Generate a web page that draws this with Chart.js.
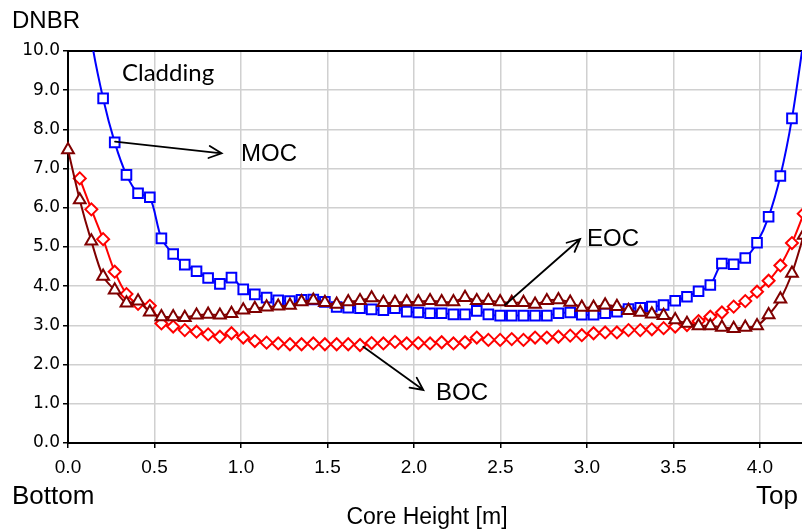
<!DOCTYPE html>
<html><head><meta charset="utf-8">
<script src="https://cdn.jsdelivr.net/npm/chart.js@4.4.0/dist/chart.umd.min.js"></script>
<style>html,body{margin:0;padding:0;background:#fff;}#wrap{width:802px;height:532px;position:relative}</style>
</head><body><div id="wrap"><canvas id="c"></canvas></div>
<script>
// Core height [m] of each axial node
const coreHeight = [0.000,0.068,0.135,0.203,0.270,0.338,0.405,0.473,0.540,0.608,0.675,0.743,0.810,0.878,0.945,1.013,1.080,1.148,1.215,1.283,1.350,1.418,1.485,1.553,1.620,1.688,1.755,1.823,1.890,1.958,2.025,2.093,2.160,2.228,2.295,2.363,2.430,2.498,2.565,2.633,2.700,2.768,2.835,2.903,2.970,3.038,3.105,3.173,3.240,3.308,3.375,3.443,3.510,3.578,3.645,3.713,3.780,3.848,3.915,3.983,4.050,4.118,4.185,4.253];
// DNBR, middle of cycle
const dnbrMOC = [15.5,12.6,10.3,8.79,7.67,6.84,6.37,6.27,5.22,4.82,4.55,4.38,4.21,4.06,4.22,3.92,3.79,3.71,3.64,3.62,3.65,3.66,3.60,3.47,3.45,3.44,3.41,3.39,3.44,3.35,3.33,3.31,3.31,3.28,3.28,3.37,3.28,3.25,3.25,3.25,3.25,3.25,3.31,3.33,3.27,3.27,3.31,3.35,3.42,3.45,3.48,3.52,3.63,3.73,3.87,4.03,4.58,4.56,4.72,5.11,5.77,6.81,8.28,10.3];
// DNBR, beginning of cycle
const dnbrBOC = [null,6.75,5.96,5.20,4.37,3.80,3.55,3.50,3.05,2.97,2.88,2.84,2.77,2.71,2.80,2.69,2.60,2.56,2.54,2.52,2.52,2.54,2.52,2.52,2.52,2.50,2.55,2.54,2.58,2.54,2.55,2.54,2.57,2.54,2.57,2.69,2.63,2.63,2.65,2.63,2.69,2.69,2.71,2.74,2.75,2.80,2.82,2.82,2.88,2.88,2.90,2.93,2.97,3.01,3.11,3.22,3.33,3.48,3.62,3.86,4.14,4.53,5.10,5.85];
// DNBR, end of cycle
const dnbrEOC = [7.48,6.20,5.15,4.25,3.90,3.57,3.62,3.34,3.22,3.22,3.20,3.26,3.28,3.26,3.30,3.39,3.43,3.47,3.49,3.51,3.60,3.64,3.58,3.54,3.60,3.63,3.70,3.58,3.58,3.60,3.60,3.63,3.60,3.60,3.71,3.63,3.63,3.60,3.58,3.58,3.54,3.63,3.65,3.59,3.46,3.46,3.52,3.48,3.38,3.33,3.29,3.25,3.14,3.05,2.99,2.99,2.95,2.92,2.95,2.99,3.27,3.67,4.33,5.30];

const xMin = 0, xMax = 4.243, xStep = 0.5;
const yMin = 0, yMax = 10, yStep = 1;

const pts = arr => coreHeight.map((h, i) => ({x: h, y: arr[i]}));

const notes = [
  {text: 'Cladding', x: 0.312, y: 9.235, font: '24px Lato'},
  {text: 'MOC', x: 1.0, y: 7.19, font: '24px "Liberation Sans"'},
  {text: 'EOC', x: 3.0, y: 5.03, font: '24px "Liberation Sans"'},
  {text: 'BOC', x: 2.127, y: 1.10, font: '24px "Liberation Sans"'}
];
const arrows = [
  {x1: 0.272, y1: 7.686, x2: 0.888, y2: 7.39},
  {x1: 2.526, y1: 3.52, x2: 2.96, y2: 5.204},
  {x1: 1.707, y1: 2.457, x2: 2.054, y2: 1.352}
];

const annot = {
  id: 'annot',
  afterDraw(chart) {
    const {ctx, scales: {x, y}} = chart;
    ctx.save();
    ctx.fillStyle = '#000';
    ctx.textBaseline = 'alphabetic';
    ctx.textAlign = 'left';
    for (const n of notes) {
      ctx.font = n.font;
      ctx.fillText(n.text, x.getPixelForValue(n.x), y.getPixelForValue(n.y));
    }
    ctx.strokeStyle = '#000';
    ctx.lineWidth = 1.8;
    ctx.lineCap = 'round';
    for (const a of arrows) {
      const x1 = x.getPixelForValue(a.x1), y1 = y.getPixelForValue(a.y1);
      const x2 = x.getPixelForValue(a.x2), y2 = y.getPixelForValue(a.y2);
      const ang = Math.atan2(y2 - y1, x2 - x1);
      ctx.beginPath();
      ctx.moveTo(x1, y1); ctx.lineTo(x2, y2);
      const L = 14;
      ctx.moveTo(x2 + L * Math.cos(ang + Math.PI - 0.45), y2 + L * Math.sin(ang + Math.PI - 0.45));
      ctx.lineTo(x2, y2);
      ctx.lineTo(x2 + L * Math.cos(ang + Math.PI + 0.45), y2 + L * Math.sin(ang + Math.PI + 0.45));
      ctx.stroke();
    }
    // labels outside the plot area
    ctx.font = '24px "Liberation Sans"';
    ctx.fillText('DNBR', 12, 28);
    ctx.font = '26px "Liberation Sans"';
    ctx.fillText('Bottom', 12, 504);
    ctx.textAlign = 'right';
    ctx.fillText('Top', 798, 504);
    ctx.textAlign = 'center';
    ctx.font = '23px "Liberation Sans"';
    ctx.fillText('Core Height [m]', 427, 524);
    ctx.restore();
  }
};

const ds = (label, data, color, style, radius, order) => ({
  label, data: pts(data), borderColor: color, backgroundColor: '#fff',
  borderWidth: 2, pointStyle: style, pointRadius: radius, pointBorderWidth: 2,
  pointBackgroundColor: '#fff', pointBorderColor: color, tension: 0.3, order,
  clip: {left: 10, top: 0, right: 0, bottom: 10}
});

const noPad = s => { s.paddingLeft = 0; s.paddingRight = 0; };

new Chart(document.getElementById('c'), {
  type: 'line',
  data: {
    datasets: [
      ds('MOC', dnbrMOC, '#0000ff', 'rect', 6.8, 3),
      ds('BOC', dnbrBOC, '#ff0000', 'rectRot', 6, 2),
      ds('EOC', dnbrEOC, '#800000', 'triangle', 6.8, 1)
    ]
  },
  options: {
    responsive: true, maintainAspectRatio: false, animation: false, devicePixelRatio: 1,
    layout: {autoPadding: false, padding: {top: 51, left: 0, right: 0, bottom: 0}},
    plugins: {legend: {display: false}, tooltip: {enabled: false}},
    scales: {
      x: {
        type: 'linear', min: xMin, max: xMax, position: 'bottom',
        afterFit(s) { s.height = 89; noPad(s); },
        grid: {color: '#d0d0d0', lineWidth: 1.5, tickColor: '#000', tickLength: 5, tickWidth: 1.5},
        border: {display: true, color: '#000', width: 2},
        ticks: {stepSize: xStep, includeBounds: false, autoSkip: false, maxRotation: 0, padding: 8,
          color: '#000', font: {family: '"Liberation Sans"', size: 19},
          callback: v => Number(v).toFixed(1)}
      },
      x2: {
        type: 'linear', min: xMin, max: xMax, position: 'top',
        afterFit(s) { s.height = 0; noPad(s); },
        grid: {display: false, drawTicks: false},
        border: {display: true, color: '#000', width: 2},
        ticks: {display: false}
      },
      y: {
        type: 'linear', min: yMin, max: yMax, position: 'left',
        afterFit(s) { s.width = 68; s.paddingTop = 0; s.paddingBottom = 0; },
        grid: {color: '#d0d0d0', lineWidth: 1.5, tickColor: '#000', tickLength: 5, tickWidth: 1.5},
        border: {display: true, color: '#000', width: 2},
        ticks: {stepSize: yStep, includeBounds: false, padding: 3, color: '#000',
          font: {family: '"DejaVu Sans"', size: 17},
          callback: v => Number(v).toFixed(1)}
      }
    }
  },
  plugins: [annot]
});
</script>
</body></html>
